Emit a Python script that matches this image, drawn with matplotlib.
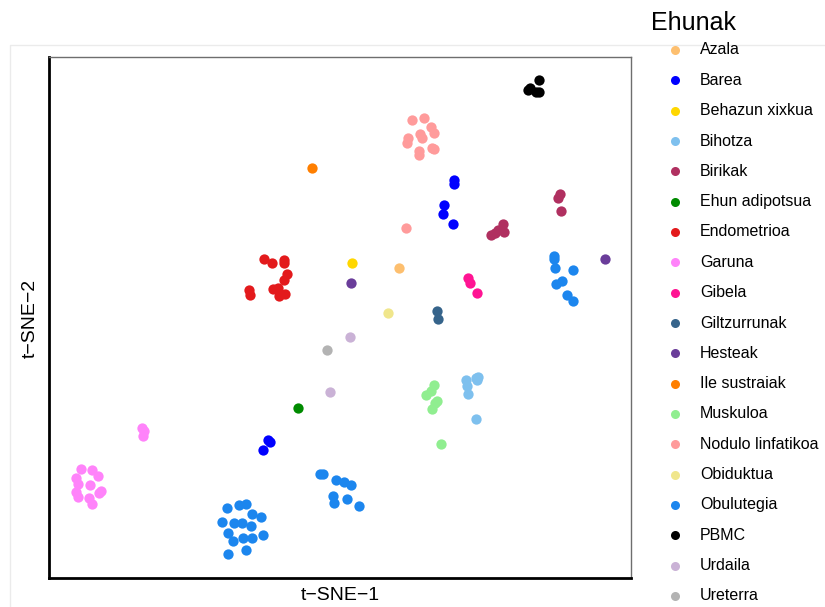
import matplotlib
matplotlib.use("Agg")
import matplotlib.pyplot as plt
from matplotlib.lines import Line2D
from matplotlib.patches import Rectangle

plt.rcParams['font.family'] = ['Liberation Sans', 'DejaVu Sans']

categories = ["Azala", "Barea", "Behazun xixkua", "Bihotza", "Birikak", "Ehun adipotsua",
              "Endometrioa", "Garuna", "Gibela", "Giltzurrunak", "Hesteak", "Ile sustraiak",
              "Muskuloa", "Nodulo linfatikoa", "Obiduktua", "Obulutegia", "PBMC", "Urdaila",
              "Ureterra"]

colors = ["#FDBF6F", "#0000FF", "#FFD700", "#7EC0EE", "#B03060", "#008B00",
          "#E31A1C", "#FF83FA", "#FF1493", "#36648B", "#6A3D9A", "#FF7F00",
          "#90EE90", "#FF9B9B", "#F0E68C", "#1C86EE", "#000000", "#CAB2D6",
          "#B3B3B3"]

tsne1_azala = [4.9]
tsne2_azala = [4.2]
tsne1_barea = [9.5, 9.5, 8.7, 8.6, 9.4, -6.0, -5.8, -6.4]
tsne2_barea = [11.5, 11.2, 9.4, 8.7, 7.8, -10.2, -10.3, -11.0]
tsne1_behazun = [1.0]
tsne2_behazun = [4.6]
tsne1_bihotza = [10.5, 10.6, 10.7, 11.3, 11.5, 11.4, 11.3]
tsne2_bihotza = [-5.2, -5.7, -6.3, -5.0, -4.9, -5.2, -8.4]
tsne1_birikak = [18.3, 18.2, 18.4, 13.6, 13.7, 13.2, 12.9, 12.6]
tsne2_birikak = [10.3, 10.0, 8.9, 7.8, 7.2, 7.3, 7.1, 6.9]
tsne1_adipo = [-3.5]
tsne2_adipo = [-7.5]
tsne1_endo = [-6.3, -5.7, -4.7, -4.7, -4.4, -4.7, -5.6, -5.2, -4.6, -5.1, -7.6, -7.5]
tsne2_endo = [4.9, 4.6, 4.8, 4.6, 3.7, 3.2, 2.4, 2.5, 2.0, 1.8, 2.3, 1.9]
tsne1_garuna = [-16.5, -16.3, -16.4, -21.6, -20.7, -20.2, -22.0, -21.8, -20.8, -22.0,
                -21.8, -19.9, -20.1, -20.9, -20.7]
tsne2_garuna = [-9.2, -9.4, -9.8, -12.6, -12.7, -13.2, -13.3, -13.8, -13.9, -14.5,
                -14.9, -14.4, -14.6, -15.0, -15.5]
tsne1_gibela = [10.7, 10.8, 11.4]
tsne2_gibela = [3.3, 2.9, 2.1]
tsne1_giltz = [8.1, 8.2]
tsne2_giltz = [0.6, -0.1]
tsne1_hesteak = [0.9, 22.1]
tsne2_hesteak = [2.9, 4.9]
tsne1_ile = [-2.3]
tsne2_ile = [12.5]
tsne1_musk = [7.8, 7.6, 7.2, 8.1, 7.9, 7.7, 8.4]
tsne2_musk = [-5.6, -6.1, -6.4, -6.9, -7.1, -7.6, -10.5]
tsne1_nodulo = [6.0, 7.0, 7.6, 7.8, 5.7, 5.6, 6.7, 6.8, 6.6, 6.6, 7.7, 7.8, 5.5]
tsne2_nodulo = [16.5, 16.7, 15.9, 15.4, 15.0, 14.6, 15.3, 15.0, 13.9, 13.6, 14.2, 14.1, 7.5]
tsne1_obid = [4.0]
tsne2_obid = [0.4]
tsne1_obul = [17.8, 17.8, 17.9, 19.4, 18.5, 18.0, 18.9, 19.4,
              -1.7, -1.4, -0.3, 0.3, 0.9, -0.6, -0.5, 0.6, 1.6,
              -9.4, -8.4, -7.8, -7.3, -6.6, -9.8, -8.8, -8.2, -7.4, -9.3, -8.1, -7.3, -6.4,
              -8.9, -7.8, -9.3]
tsne2_obul = [5.2, 4.9, 4.2, 4.0, 3.1, 2.8, 1.9, 1.4,
              -13.0, -13.0, -13.5, -13.7, -13.9, -14.8, -15.4, -15.1, -15.7,
              -15.8, -15.6, -15.5, -16.3, -16.6, -17.0, -17.1, -17.1, -17.3, -17.9, -18.3,
              -18.3, -18.1, -18.6, -19.3, -19.7]
tsne1_pbmc = [15.8, 15.7, 16.6, 16.3, 16.6]
tsne2_pbmc = [19.2, 19.0, 19.8, 18.8, 18.8]
tsne1_urdaila = [0.8, -0.8]
tsne2_urdaila = [-1.6, -6.2]
tsne1_ureterra = [-1.1]
tsne2_ureterra = [-2.7]

xs = [tsne1_azala, tsne1_barea, tsne1_behazun, tsne1_bihotza, tsne1_birikak, tsne1_adipo,
      tsne1_endo, tsne1_garuna, tsne1_gibela, tsne1_giltz, tsne1_hesteak, tsne1_ile,
      tsne1_musk, tsne1_nodulo, tsne1_obid, tsne1_obul, tsne1_pbmc, tsne1_urdaila,
      tsne1_ureterra]
ys = [tsne2_azala, tsne2_barea, tsne2_behazun, tsne2_bihotza, tsne2_birikak, tsne2_adipo,
      tsne2_endo, tsne2_garuna, tsne2_gibela, tsne2_giltz, tsne2_hesteak, tsne2_ile,
      tsne2_musk, tsne2_nodulo, tsne2_obid, tsne2_obul, tsne2_pbmc, tsne2_urdaila,
      tsne2_ureterra]

W, H = 825, 607
fig = plt.figure(figsize=(W / 100, H / 100), dpi=100)

# faint outer panel frame
fig.patches.append(Rectangle((10 / W, -0.01), 1.0, 1 - 45 / H + 0.01, transform=fig.transFigure,
                             fill=False, edgecolor="#EBEBEB", linewidth=1.0))

ax = fig.add_axes([49 / W, 1 - 578 / H, (631 - 49) / W, (578 - 57) / H])
for x, y, c in zip(xs, ys, colors):
    ax.scatter(x, y, s=55, color=c, linewidths=0, zorder=3)

ax.set_xlim(-24.25, 24.25)
ax.set_ylim(-21.67, 21.75)
ax.set_xticks([])
ax.set_yticks([])
for side in ["left", "bottom"]:
    ax.spines[side].set_color("black")
    ax.spines[side].set_linewidth(2.0)
for side in ["top", "right"]:
    ax.spines[side].set_color("#6E6E6E")
    ax.spines[side].set_linewidth(1.0)

fig.text(340 / W, 1 - 595 / H, "t\u2212SNE\u22121", ha="center", va="center", fontsize=14)
fig.text(30 / W, 1 - 318 / H, "t\u2212SNE\u22122", ha="center", va="center", fontsize=14,
         rotation=90)

# legend
fig.text(651 / W, 1 - 23 / H, "Ehunak", ha="left", va="center", fontsize=18)
y0 = 50
step = (596 - 50) / 18
for i, (name, c) in enumerate(zip(categories, colors)):
    yy = 1 - (y0 + i * step) / H
    fig.add_artist(Line2D([675 / W], [yy], marker="o", markersize=6.5, color=c,
                          markeredgewidth=0, linestyle="none", transform=fig.transFigure))
    fig.text(700 / W, yy, name, ha="left", va="center", fontsize=11.5)

fig.savefig("out.png", dpi=100, facecolor="white")
